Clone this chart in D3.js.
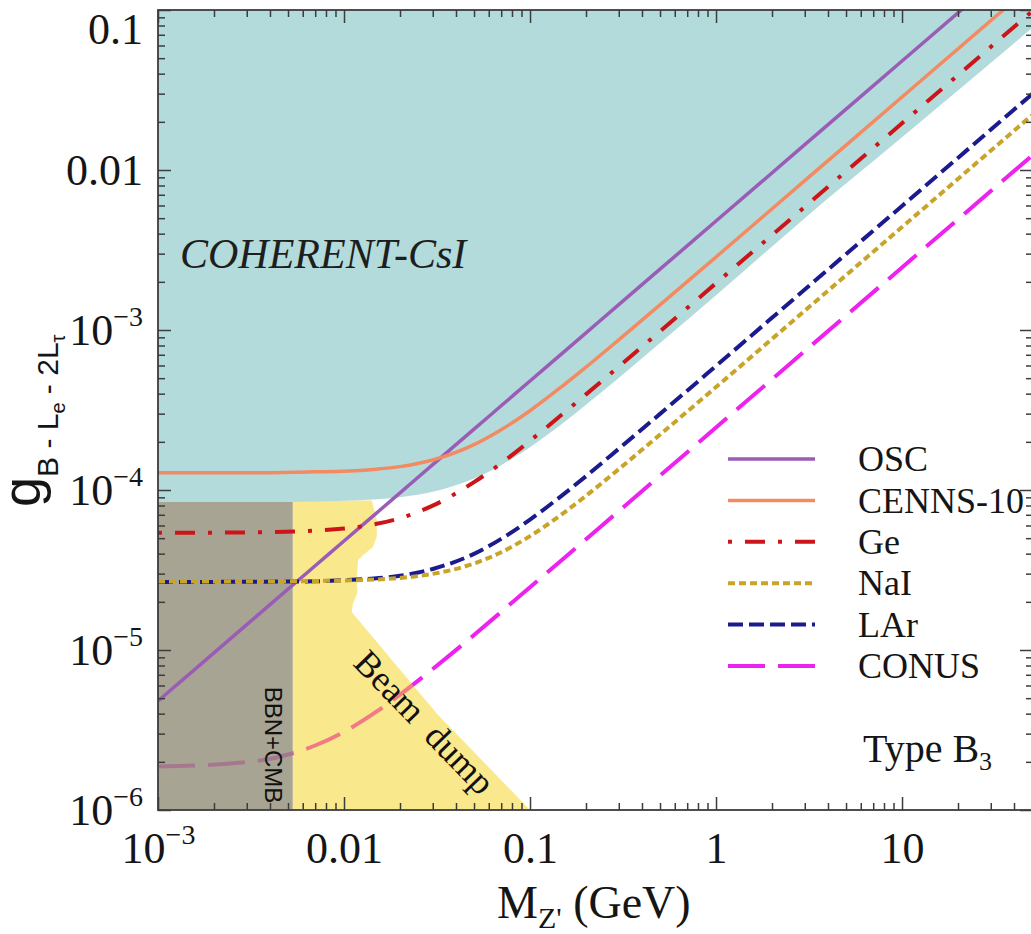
<!DOCTYPE html>
<html>
<head>
<meta charset="utf-8">
<script src="https://cdn.jsdelivr.net/npm/d3@7"></script>
<style>
  html, body { margin: 0; padding: 0; background: #ffffff; }
  svg { display: block; }
</style>
</head>
<body>
<svg id="chart" width="1031" height="934"></svg>
<script>
// Z' mass points (GeV) at which the limit curves are sampled
const massGrid = [0.001, 0.003, 0.007, 0.01, 0.015, 0.02, 0.03, 0.05, 0.07, 0.1, 0.15, 0.2, 0.3, 0.5, 1, 3, 10, 50];

// Upper limits on the coupling g for each experiment
const oscLimit   = [4.8e-6, 1.44e-5, 3.36e-5, 4.8e-5, 7.2e-5, 9.6e-5, 1.44e-4, 2.4e-4, 3.36e-4, 4.8e-4, 7.2e-4, 9.6e-4, 1.44e-3, 2.4e-3, 4.8e-3, 1.44e-2, 4.8e-2, 0.24];
const cennsLimit = [1.28e-4, 1.28e-4, 1.30e-4, 1.31e-4, 1.35e-4, 1.40e-4, 1.54e-4, 1.92e-4, 2.38e-4, 3.13e-4, 4.48e-4, 5.86e-4, 8.68e-4, 1.436e-3, 2.86e-3, 8.58e-3, 2.86e-2, 0.143];
const geLimit    = [5.40e-5, 5.43e-5, 5.57e-5, 5.74e-5, 6.15e-5, 6.67e-5, 7.98e-5, 1.12e-4, 1.47e-4, 2.03e-4, 2.99e-4, 3.96e-4, 5.90e-4, 9.81e-4, 1.96e-3, 5.88e-3, 1.96e-2, 9.8e-2];
const naiLimit   = [2.68e-5, 2.68e-5, 2.70e-5, 2.72e-5, 2.76e-5, 2.82e-5, 2.99e-5, 3.47e-5, 4.08e-5, 5.15e-5, 7.12e-5, 9.2e-5, 1.35e-4, 2.22e-4, 4.4e-4, 1.32e-3, 4.4e-3, 2.2e-2];
const larLimit   = [2.66e-5, 2.67e-5, 2.69e-5, 2.73e-5, 2.81e-5, 2.91e-5, 3.21e-5, 3.99e-5, 4.95e-5, 6.53e-5, 9.33e-5, 1.22e-4, 1.81e-4, 2.99e-4, 5.96e-4, 1.79e-3, 5.96e-3, 2.98e-2];
const conusLimit = [1.87e-6, 1.99e-6, 2.53e-6, 3.08e-6, 4.13e-6, 5.26e-6, 7.61e-6, 1.24e-5, 1.73e-5, 2.47e-5, 3.69e-5, 4.92e-5, 7.38e-5, 1.23e-4, 2.46e-4, 7.38e-4, 2.46e-3, 1.23e-2];

// Lower edge of the COHERENT-CsI excluded region
const csiEdge    = [8.4e-5, 8.4e-5, 8.48e-5, 8.56e-5, 8.76e-5, 9.02e-5, 9.75e-5, 1.18e-4, 1.43e-4, 1.85e-4, 2.61e-4, 3.41e-4, 5.02e-4, 8.29e-4, 1.65e-3, 5.0e-3, 1.6e-2, 7.7e-2];

// BBN+CMB excluded box
const bbnMass = [0.001, 0.0053];
const bbnTop  = [8.4e-5, 8.4e-5];

// Beam dump excluded region outline
const beamDumpMass     = [0.0053, 0.0053, 0.0141, 0.0150, 0.0150, 0.0143, 0.0126, 0.0119, 0.0117, 0.0118, 0.0112, 0.0110, 0.0316, 0.1];
const beamDumpCoupling = [1e-6, 8.6e-5, 8.6e-5, 6.5e-5, 5.1e-5, 4.4e-5, 3.9e-5, 3.65e-5, 2.74e-5, 2.27e-5, 1.97e-5, 1.73e-5, 4.0e-6, 1e-6];

// Axis ticks and labels
const xMajorTicks  = [0.001, 0.01, 0.1, 1, 10];
const xMajorLabels = ["10^\u22123", "0.01", "0.1", "1", "10"];
const yMajorTicks  = [1e-6, 1e-5, 1e-4, 1e-3, 0.01, 0.1];
const yMajorLabels = ["10^\u22126", "10^\u22125", "10^\u22124", "10^\u22123", "0.01", "0.1"];

// Legend entries
const legendNames = ["OSC", "CENNS-10", "Ge", "NaI", "LAr", "CONUS"];

const serif = "'Liberation Serif', 'Times New Roman', serif";
const sans  = "'Liberation Sans', Arial, sans-serif";

const plot = { left: 158, right: 1033, top: 10, bottom: 810 };
const x = d3.scaleLog().domain([1e-3, 50.6]).range([plot.left, plot.right]);
const y = d3.scaleLog().domain([1e-6, 0.1]).range([plot.bottom, plot.top]);

const svg = d3.select("#chart");

svg.append("defs").append("clipPath").attr("id", "plot-clip")
  .append("rect")
  .attr("x", plot.left).attr("y", plot.top)
  .attr("width", plot.right - plot.left).attr("height", plot.bottom - plot.top);

const layer = svg.append("g").attr("clip-path", "url(#plot-clip)");

const pairs = (ms, gs) => ms.map((m, i) => ({ m: m, g: gs[i] }));

const curveLine = d3.line().x(d => x(d.m)).y(d => y(d.g)).curve(d3.curveMonotoneX);

const styles = {
  OSC:        { color: "#9a5db6", width: 3.5, dash: null },
  "CENNS-10": { color: "#f28a62", width: 3.5, dash: null },
  Ge:         { color: "#cc1518", width: 4,   dash: "4,13,20,13" },
  NaI:        { color: "#c8a428", width: 4,   dash: "7,4" },
  LAr:        { color: "#1b1b8d", width: 4,   dash: "15,6" },
  CONUS:      { color: "#ee22ee", width: 4,   dash: "37,13" }
};

function drawCurve(name, data) {
  const s = styles[name];
  layer.append("path")
    .datum(data)
    .attr("d", curveLine)
    .attr("fill", "none")
    .attr("stroke", s.color)
    .attr("stroke-width", s.width)
    .attr("stroke-dasharray", s.dash);
}

// CONUS sits beneath the translucent bounds
drawCurve("CONUS", pairs(massGrid, conusLimit));

// Beam dump region
layer.append("path")
  .datum(pairs(beamDumpMass, beamDumpCoupling))
  .attr("d", d3.line().x(d => x(d.m)).y(d => y(d.g)).curve(d3.curveLinearClosed))
  .attr("fill", "#f5d119")
  .attr("fill-opacity", 0.5);

// BBN+CMB region
layer.append("path")
  .datum(pairs(bbnMass, bbnTop))
  .attr("d", d3.area().x(d => x(d.m)).y0(y(1e-6)).y1(d => y(d.g)))
  .attr("fill", "#928d78")
  .attr("fill-opacity", 0.8);

// COHERENT-CsI region
layer.append("path")
  .datum(pairs(massGrid, csiEdge))
  .attr("d", d3.area().x(d => x(d.m)).y0(plot.top - 5).y1(d => y(d.g)).curve(d3.curveMonotoneX))
  .attr("fill", "#b3dbdb");

drawCurve("OSC", pairs(massGrid, oscLimit));
drawCurve("CENNS-10", pairs(massGrid, cennsLimit));
drawCurve("Ge", pairs(massGrid, geLimit));
drawCurve("LAr", pairs(massGrid, larLimit));
drawCurve("NaI", pairs(massGrid, naiLimit));

// ---- axes ----
const isMajor = (v, majors) => majors.some(m => Math.abs(m - v) / m < 1e-9);
const xMinor = x.ticks().filter(v => !isMajor(v, xMajorTicks));
const yMinor = y.ticks().filter(v => !isMajor(v, yMajorTicks));

const tickColor = "#3c3c3c";
function styleAxis(g) {
  g.select(".domain").remove();
  g.selectAll(".tick line").attr("stroke", tickColor).attr("stroke-width", 1.5);
}

function withExponent(sel, labels, supShift) {
  sel.selectAll(".tick text").each(function (d, i) {
    const parts = labels[i].split("^");
    const t = d3.select(this);
    t.text(null);
    t.append("tspan").text(parts[0]);
    if (parts.length > 1) {
      t.append("tspan").attr("font-size", 28).attr("dy", -supShift).text(parts[1]);
    }
  });
}

// bottom
svg.append("g").attr("transform", `translate(0,${plot.bottom})`)
  .call(d3.axisBottom(x).tickValues(xMinor).tickSize(-7).tickFormat(""))
  .call(styleAxis);
const xAxisMajor = svg.append("g").attr("transform", `translate(0,${plot.bottom})`)
  .call(d3.axisBottom(x).tickValues(xMajorTicks).tickSize(-13).tickPadding(22))
  .call(styleAxis);
xAxisMajor.selectAll(".tick text")
  .attr("font-family", serif).attr("font-size", 44).attr("fill", "#151515");
withExponent(xAxisMajor, xMajorLabels, 19);

// top
svg.append("g").attr("transform", `translate(0,${plot.top})`)
  .call(d3.axisTop(x).tickValues(xMinor).tickSize(-7).tickFormat(""))
  .call(styleAxis);
svg.append("g").attr("transform", `translate(0,${plot.top})`)
  .call(d3.axisTop(x).tickValues(xMajorTicks).tickSize(-13).tickFormat(""))
  .call(styleAxis);

// left
svg.append("g").attr("transform", `translate(${plot.left},0)`)
  .call(d3.axisLeft(y).tickValues(yMinor).tickSize(-7).tickFormat(""))
  .call(styleAxis);
const yAxisMajor = svg.append("g").attr("transform", `translate(${plot.left},0)`)
  .call(d3.axisLeft(y).tickValues(yMajorTicks).tickSize(-13).tickPadding(15))
  .call(styleAxis);
yAxisMajor.selectAll(".tick text")
  .attr("font-family", serif).attr("font-size", 44).attr("fill", "#151515")
  .attr("dy", (d) => d === 0.1 ? "0.75em" : "0.34em");
withExponent(yAxisMajor, yMajorLabels, 19);

// right
svg.append("g").attr("transform", `translate(${plot.right},0)`)
  .call(d3.axisRight(y).tickValues(yMinor).tickSize(-7).tickFormat(""))
  .call(styleAxis);
svg.append("g").attr("transform", `translate(${plot.right},0)`)
  .call(d3.axisRight(y).tickValues(yMajorTicks).tickSize(-13).tickFormat(""))
  .call(styleAxis);

// frame
svg.append("rect")
  .attr("x", plot.left).attr("y", plot.top)
  .attr("width", plot.right - plot.left).attr("height", plot.bottom - plot.top)
  .attr("fill", "none").attr("stroke", tickColor).attr("stroke-width", 1.8);

// ---- axis titles ----
const xTitle = svg.append("text")
  .attr("x", 497).attr("y", 918)
  .attr("font-family", serif).attr("fill", "#151515");
xTitle.append("tspan").attr("font-size", 46).text("M");
xTitle.append("tspan").attr("font-size", 30).attr("dy", 10).text("Z'");
xTitle.append("tspan").attr("font-size", 46).attr("dy", -10).text(" (GeV)");

const yTitle = svg.append("text")
  .attr("transform", "translate(40,507) rotate(-90)")
  .attr("font-family", sans).attr("fill", "#151515");
yTitle.append("tspan").attr("font-size", 54).text("g");
yTitle.append("tspan").attr("font-size", 30).attr("dy", 18).text("B - L");
yTitle.append("tspan").attr("font-size", 20).attr("dy", 7).text("e");
yTitle.append("tspan").attr("font-size", 30).attr("dy", -7).text(" - 2L");
yTitle.append("tspan").attr("font-size", 20).attr("dy", 7).text("\u03c4");

// ---- region labels ----
svg.append("text")
  .attr("x", 180).attr("y", 268)
  .attr("font-family", serif).attr("font-style", "italic").attr("font-size", 42)
  .attr("fill", "#1e1e1e")
  .text("COHERENT-CsI");

svg.append("text")
  .attr("transform", "translate(273,745) rotate(90)")
  .attr("text-anchor", "middle").attr("dy", "0.35em")
  .attr("font-family", sans).attr("font-size", 24).attr("fill", "#111")
  .text("BBN+CMB");

svg.append("text")
  .attr("transform", "translate(425,722) rotate(46)")
  .attr("text-anchor", "middle").attr("dy", "0.35em")
  .attr("font-family", serif).attr("font-size", 36).attr("fill", "#111")
  .text("Beam\u00a0\u00a0dump");

const typeLabel = svg.append("text")
  .attr("x", 863).attr("y", 762)
  .attr("font-family", serif).attr("fill", "#151515");
typeLabel.append("tspan").attr("font-size", 40).text("Type B");
typeLabel.append("tspan").attr("font-size", 26).attr("dy", 8).text("3");

// ---- legend ----
const legendRowY = d3.scalePoint().domain(legendNames).range([459, 666]);
const legend = svg.append("g");
legendNames.forEach(name => {
  const s = styles[name];
  const ry = legendRowY(name);
  legend.append("line")
    .attr("x1", 728).attr("x2", 815).attr("y1", ry).attr("y2", ry)
    .attr("stroke", s.color).attr("stroke-width", s.width)
    .attr("stroke-dasharray", s.dash);
  legend.append("text")
    .attr("x", 858).attr("y", ry).attr("dy", "0.34em")
    .attr("font-family", serif).attr("font-size", 36).attr("fill", "#151515")
    .text(name);
});
</script>
</body>
</html>
